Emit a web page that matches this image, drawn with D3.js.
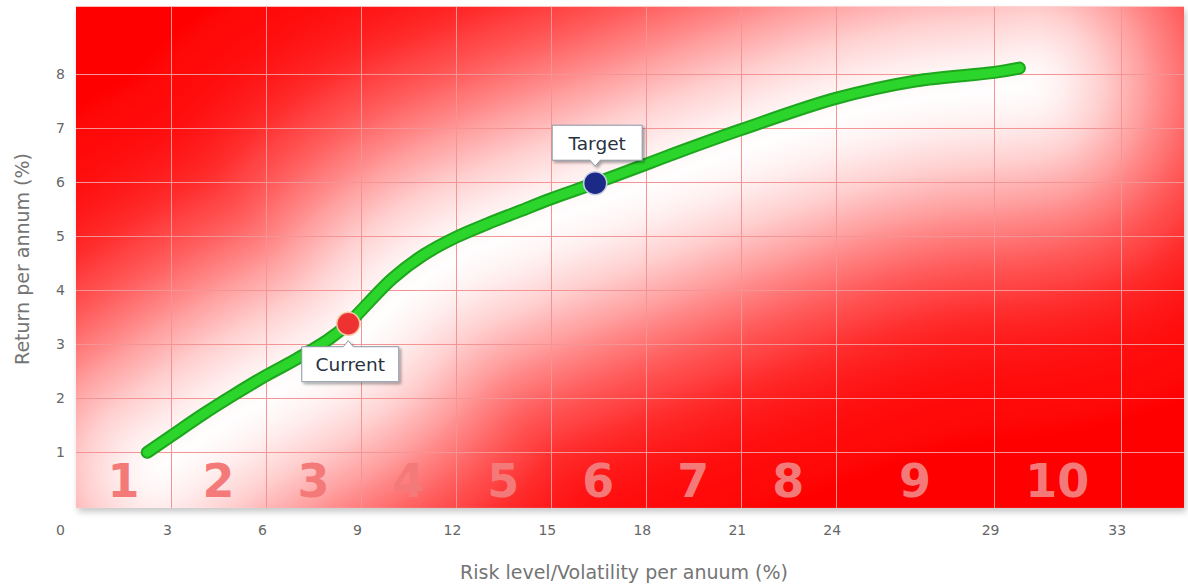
<!DOCTYPE html>
<html>
<head>
<meta charset="utf-8">
<script src="https://cdn.jsdelivr.net/npm/d3@7"></script>
<style>
  html, body { margin: 0; padding: 0; background: #fff; }
  svg { display: block; }
</style>
</head>
<body>
<svg id="chart" width="1188" height="588"></svg>
<script>
// ---- data ----
const xTickValues = [0, 3, 6, 9, 12, 15, 18, 21, 24, 29, 33];
const yTickValues = [1, 2, 3, 4, 5, 6, 7, 8];
const riskClassLabels = ["1", "2", "3", "4", "5", "6", "7", "8", "9", "10"];
const frontierRisk   = [2.25, 3.0, 4.0, 5.0, 6.0, 7.0, 8.0, 8.6, 9.0, 10.0, 11.0, 12.0, 13.0, 14.0, 15.0, 16.4, 18.0, 19.0, 21.0, 24.0, 26.5, 29.0, 29.8];
const frontierReturn = [1.0, 1.30, 1.70, 2.07, 2.42, 2.74, 3.1, 3.38, 3.62, 4.22, 4.66, 4.98, 5.23, 5.46, 5.69, 5.98, 6.33, 6.55, 6.97, 7.55, 7.87, 8.03, 8.11];
const markerNames  = ["Current", "Target"];
const markerRisk   = [8.6, 16.4];
const markerReturn = [3.38, 5.98];
const xTitle = "Risk level/Volatility per anuum (%)";
const yTitle = "Return per annum (%)";

// ---- setup ----
const svg = d3.select("#chart");
const x = d3.scaleLinear().domain([0, 35]).range([76, 1184]);
const y = d3.scaleLinear().domain([0, 9.25]).range([506.4, 6.5]);
const FONT = "'DejaVu Sans', Verdana, sans-serif";

const frontier = frontierRisk.map((r, i) => ({ r, v: frontierReturn[i] }));
const markers = markerNames.map((n, i) => ({ n, r: markerRisk[i], v: markerReturn[i] }));

const defs = svg.append("defs");
const px0 = x(0), px1 = x(35), py0 = y(9.25), py1 = y(0) + 1.5;
defs.append("clipPath").attr("id", "plotClip")
  .append("rect").attr("x", px0).attr("y", py0).attr("width", px1 - px0).attr("height", py1 - py0);

const glow = defs.append("filter").attr("id", "glow")
  .attr("filterUnits", "userSpaceOnUse").attr("x", -100).attr("y", -100).attr("width", 1400).attr("height", 800);
glow.append("feGaussianBlur").attr("stdDeviation", 6);

const shadow = defs.append("filter").attr("id", "shadow")
  .attr("x", "-5%").attr("y", "-5%").attr("width", "110%").attr("height", "120%");
shadow.append("feGaussianBlur").attr("stdDeviation", 3);

const boxShadow = defs.append("filter").attr("id", "boxShadow")
  .attr("x", "-20%").attr("y", "-20%").attr("width", "150%").attr("height", "160%");
boxShadow.append("feGaussianBlur").attr("in", "SourceAlpha").attr("stdDeviation", 1.5).attr("result", "b");
boxShadow.append("feOffset").attr("in", "b").attr("dx", 1.5).attr("dy", 2).attr("result", "o");
boxShadow.append("feComponentTransfer").attr("in", "o").attr("result", "o2")
  .append("feFuncA").attr("type", "linear").attr("slope", 0.35);
const bm = boxShadow.append("feMerge");
bm.append("feMergeNode").attr("in", "o2");
bm.append("feMergeNode").attr("in", "SourceGraphic");

// plot shadow
svg.append("rect")
  .attr("x", px0 + 2).attr("y", py0 + 4).attr("width", px1 - px0).attr("height", py1 - py0)
  .attr("fill", "#9a9a9a").attr("opacity", 0.55).attr("filter", "url(#shadow)");

// plot background
const plot = svg.append("g").attr("clip-path", "url(#plotClip)");
plot.append("rect").attr("x", px0).attr("y", py0).attr("width", px1 - px0).attr("height", py1 - py0)
  .attr("fill", "#ff0000");

const line = d3.line().x(d => x(d.r)).y(d => y(d.v)).curve(d3.curveCatmullRom.alpha(0.5));

// soft white glow around the frontier: stacked translucent strokes (gaussian-like falloff)
const step = 10, nBands = 34, spread = 175;
const whiteness = dd => Math.exp(-Math.pow(dd / spread, 2));
const T = [];
for (let k = 1; k <= nBands; k++) T[k] = 1 - whiteness((k - 0.5) * step);
T[nBands + 1] = 1;
const bands = d3.range(1, nBands + 1).map(k => ({ half: k * step, a: 1 - T[k] / T[k + 1] }));
const glowG = plot.append("g").attr("filter", "url(#glow)").attr("transform", "translate(10,17)");
glowG.selectAll("path").data(bands).join("path")
  .attr("d", line(frontier))
  .attr("fill", "none").attr("stroke", "#fff")
  .attr("stroke-width", d => d.half * 2)
  .attr("stroke-opacity", d => d.a)
  .attr("stroke-linecap", "round").attr("stroke-linejoin", "round");

// grid
const gridColor = "#f49494";
plot.append("g").selectAll("line").data(xTickValues.filter(d => d > 0)).join("line")
  .attr("x1", d => Math.round(x(d)) + 0.5).attr("x2", d => Math.round(x(d)) + 0.5)
  .attr("y1", py0).attr("y2", py1)
  .attr("stroke", gridColor).attr("stroke-width", 1);
plot.append("g").selectAll("line").data(yTickValues).join("line")
  .attr("y1", d => Math.round(y(d)) + 0.5).attr("y2", d => Math.round(y(d)) + 0.5)
  .attr("x1", px0).attr("x2", px1)
  .attr("stroke", gridColor).attr("stroke-width", 1);

// risk class numbers
const classes = riskClassLabels.map((l, i) => ({ l, a: xTickValues[i], b: xTickValues[i + 1] }));
plot.append("g").selectAll("text").data(classes).join("text")
  .attr("x", d => (x(d.a) + x(d.b)) / 2)
  .attr("y", 497)
  .attr("text-anchor", "middle")
  .attr("font-family", FONT).attr("font-weight", "bold").attr("font-size", 46)
  .attr("fill", "#f47a7a")
  .text(d => d.l);

// frontier line
svg.append("path").datum(frontier).attr("d", line)
  .attr("fill", "none").attr("stroke", "#1ea61e").attr("stroke-width", 13)
  .attr("stroke-linecap", "round").attr("stroke-linejoin", "round");
svg.append("path").datum(frontier).attr("d", line)
  .attr("fill", "none").attr("stroke", "#2bd52b").attr("stroke-width", 9)
  .attr("stroke-linecap", "round").attr("stroke-linejoin", "round");

// markers
const markerFill = { Current: "#ee3232", Target: "#1a2a86" };
const markerStroke = { Current: "#f6c8a8", Target: "#c9d0e4" };
svg.append("g").selectAll("circle").data(markers).join("circle")
  .attr("cx", d => x(d.r)).attr("cy", d => y(d.v)).attr("r", 11.5)
  .attr("fill", d => markerFill[d.n]).attr("stroke", d => markerStroke[d.n]).attr("stroke-width", 1.5);

// callout labels
const labelG = svg.append("g");
markers.forEach(d => {
  const cx = x(d.r), cy = y(d.v);
  const above = d.n === "Target";
  const w = d.n === "Target" ? 90 : 97, h = 35;
  const bx = cx + 2 - w / 2;
  const by = above ? cy - 23 - h : cy + 23;
  const g = labelG.append("g").attr("filter", "url(#boxShadow)");
  const tipY = above ? by + h + 6 : by - 6;
  let p;
  if (above) {
    p = `M${bx},${by} H${bx + w} V${by + h} H${cx + 5} L${cx},${tipY} L${cx - 5},${by + h} H${bx} Z`;
  } else {
    p = `M${bx},${by} H${cx - 5} L${cx},${tipY} L${cx + 5},${by} H${bx + w} V${by + h} H${bx} Z`;
  }
  g.append("path").attr("d", p).attr("fill", "#ffffff").attr("stroke", "#8a96a3").attr("stroke-width", 1);
  labelG.append("text")
    .attr("x", bx + w / 2).attr("y", by + h / 2 + 7)
    .attr("text-anchor", "middle")
    .attr("font-family", FONT).attr("font-size", 18.5).attr("fill", "#27323f")
    .text(d.n);
});

// axes
const xAxis = d3.axisBottom(x).tickValues(xTickValues).tickSize(0).tickPadding(19).tickFormat(d3.format("d"));
const gx = svg.append("g").attr("transform", `translate(0,${y(0)})`).call(xAxis);
gx.select(".domain").remove();
gx.selectAll("text").attr("font-family", FONT).attr("font-size", 14).attr("fill", "#666")
  .attr("dx", d => d === 0 ? -16 : -4);

const yAxis = d3.axisLeft(y).tickValues(yTickValues).tickSize(0).tickPadding(11).tickFormat(d3.format("d"));
const gy = svg.append("g").attr("transform", `translate(${x(0)},0)`).call(yAxis);
gy.select(".domain").remove();
gy.selectAll("text").attr("font-family", FONT).attr("font-size", 14).attr("fill", "#666");

// titles
svg.append("text").attr("x", 624).attr("y", 579).attr("text-anchor", "middle")
  .attr("font-family", FONT).attr("font-size", 19).attr("fill", "#747474").text(xTitle);
svg.append("text").attr("transform", "translate(29,259) rotate(-90)").attr("text-anchor", "middle")
  .attr("font-family", FONT).attr("font-size", 19).attr("fill", "#747474").text(yTitle);
</script>
</body>
</html>
